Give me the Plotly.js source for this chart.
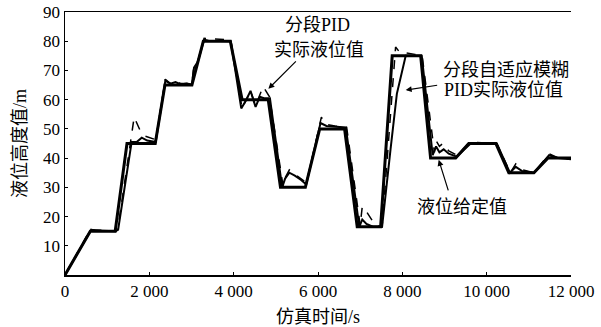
<!DOCTYPE html>
<html>
<head>
<meta charset="utf-8">
<script src="https://cdn.plot.ly/plotly-3.0.1.min.js"></script>
<style>html,body{margin:0;padding:0;background:#fff;}#chart{width:601px;height:327px;}</style>
</head>
<body>
<div id="chart"></div>
<script>
// 液位给定值 (setpoint)
const setT = [0, 600, 1190, 1470, 2140, 2370, 3010, 3280, 3920, 4200, 4820, 5110, 5700, 6040, 6630, 6930, 7485, 7760, 8435, 8670, 9265, 9575, 10217, 10525, 11120, 11450, 12000];
const setV = [0, 15, 15, 45, 45, 65, 65, 80, 80, 60, 60, 30, 30, 50, 50, 16.5, 16.5, 75, 75, 40, 40, 45, 45, 35, 35, 40, 40];

// 分段自适应模糊PID实际液位值
const fuzzyT = [0, 620, 700, 1200, 1260, 1580, 1700, 1820, 1950, 2150, 2380, 2500, 2620, 2750, 2880, 3010, 3060, 3150, 3300, 3400, 3930, 4180, 4300, 4400, 4520, 4620, 4720, 4860, 5150, 5220, 5320, 5450, 5600, 5720, 6060, 6200, 6660, 6980, 7050, 7150, 7300, 7520, 7720, 7870, 8080, 8460, 8720, 8800, 8880, 8980, 9100, 9290, 9620, 10240, 10550, 10690, 10850, 11130, 11480, 11700, 12000];
const fuzzyV = [0, 15.5, 15.2, 15, 15.5, 45.5, 45.5, 47, 46, 45.5, 66.5, 65.5, 66, 65.2, 65.5, 65.2, 71, 73, 80.5, 80.2, 80, 57, 60, 63, 57.5, 61, 60.5, 60.5, 30, 33, 35, 34, 32.5, 31, 52, 51, 50.5, 16.5, 19, 17.5, 16.5, 16.5, 43, 62, 75, 75, 41, 44, 42, 43, 41.5, 40.5, 45, 45, 35, 37, 35.5, 35, 41, 40, 39.6];

// 分段PID实际液位值
const pidT = [0, 600, 1200, 1250, 1640, 1780, 1900, 2110, 2150, 2380, 2500, 2620, 2750, 3010, 3060, 3150, 3300, 3930, 4200, 4400, 4520, 4700, 4850, 5170, 5230, 5320, 5450, 5600, 5730, 6080, 6200, 6400, 6680, 7000, 7050, 7150, 7250, 7350, 7520, 7840, 7950, 8100, 8300, 8470, 8760, 8800, 8880, 8960, 9100, 9290, 9620, 10240, 10560, 10690, 10850, 11130, 11480, 11700, 12000];
const pidV = [0, 15.5, 15, 15.5, 54, 49.5, 47.5, 46.5, 46, 67, 65.5, 66.5, 65.5, 65.5, 72, 73, 81, 80.5, 57, 63, 58, 64.5, 61, 30.5, 33.5, 36, 34.5, 33, 31.5, 54, 51.5, 51, 50.5, 17, 23.4, 21.7, 19.4, 17.2, 16.5, 78, 76, 76, 75.5, 75, 42, 46, 44, 45, 42.5, 41, 45.5, 45, 35, 38, 36, 35, 41.5, 40, 39.6];

const xTickVals = [0, 2000, 4000, 6000, 8000, 10000, 12000];
const xTickText = ['0', '2 000', '4 000', '6 000', '8 000', '10 000', '12 000'];
const yTickVals = [10, 20, 30, 40, 50, 60, 70, 80, 90];

const FONT = 'Liberation Serif, Noto Sans CJK SC, serif';

const traces = [
  {x: setT, y: setV, type: 'scatter', mode: 'lines', line: {color: '#000', width: 3}, name: '液位给定值'},
  {x: fuzzyT, y: fuzzyV, type: 'scatter', mode: 'lines', line: {color: '#000', width: 2}, name: '分段自适应模糊PID实际液位值'},
  {x: pidT, y: pidV, type: 'scatter', mode: 'lines', line: {color: '#000', width: 1.5, dash: 'dash'}, name: '分段PID实际液位值'}
];

const txt = (text, x, y) => ({x: x, y: y, xref: 'x', yref: 'y', text: text, showarrow: false,
  font: {family: FONT, size: 18, color: '#000'}, xanchor: 'center', yanchor: 'middle'});
const arr = (x, y, ax, ay) => ({x: x, y: y, xref: 'x', yref: 'y', text: '', showarrow: true,
  arrowhead: 2, arrowsize: 1, arrowwidth: 1.2, arrowcolor: '#000', ax: ax, ay: ay, standoff: 0});

const layout = {
  width: 601, height: 327,
  margin: {l: 65, r: 30, t: 12, b: 52},
  paper_bgcolor: '#fff', plot_bgcolor: '#fff',
  showlegend: false,
  font: {family: FONT, size: 16, color: '#000'},
  xaxis: {
    range: [0, 12000], tickmode: 'array', tickvals: xTickVals, ticktext: xTickText,
    ticks: 'inside', ticklen: 3, tickwidth: 1, tickcolor: '#000',
    showline: true, linewidth: 1.5, linecolor: '#000', mirror: true,
    showgrid: false, zeroline: false,
    tickfont: {family: FONT, size: 17, color: '#000'},
    title: {text: '仿真时间/s', font: {family: FONT, size: 18, color: '#000'}, standoff: 10}
  },
  yaxis: {
    range: [0, 90], tickmode: 'array', tickvals: yTickVals,
    ticks: 'inside', ticklen: 3, tickwidth: 1, tickcolor: '#000',
    showline: true, linewidth: 1.5, linecolor: '#000', mirror: false,
    showgrid: false, zeroline: false,
    tickfont: {family: FONT, size: 17, color: '#000'},
    title: {text: '液位高度值/m', font: {family: FONT, size: 18, color: '#000'}, standoff: 12}
  },
  yaxis2: {
    overlaying: 'y', side: 'right', range: [0, 90], tickmode: 'linear', tick0: 0, dtick: 10 / 3,
    ticks: 'inside', ticklen: 3, tickwidth: 1, tickcolor: '#000', showticklabels: false,
    showline: true, linewidth: 1.5, linecolor: '#000', showgrid: false, zeroline: false
  },
  annotations: [
    txt('分段PID', 5988, 85.6),
    txt('实际液位值', 6035, 77.0),
    arr(4823, 63.7, 29, -29),
    txt('分段自适应模糊', 10454, 70.2),
    txt('PID实际液位值', 10407, 63.3),
    arr(8079, 63.3, 33, -5),
    txt('液位给定值', 9409, 23.3),
    arr(8863, 39.4, 10, 32)
  ]
};

Plotly.newPlot('chart', traces, layout, {displayModeBar: false, staticPlot: true});
</script>
</body>
</html>
